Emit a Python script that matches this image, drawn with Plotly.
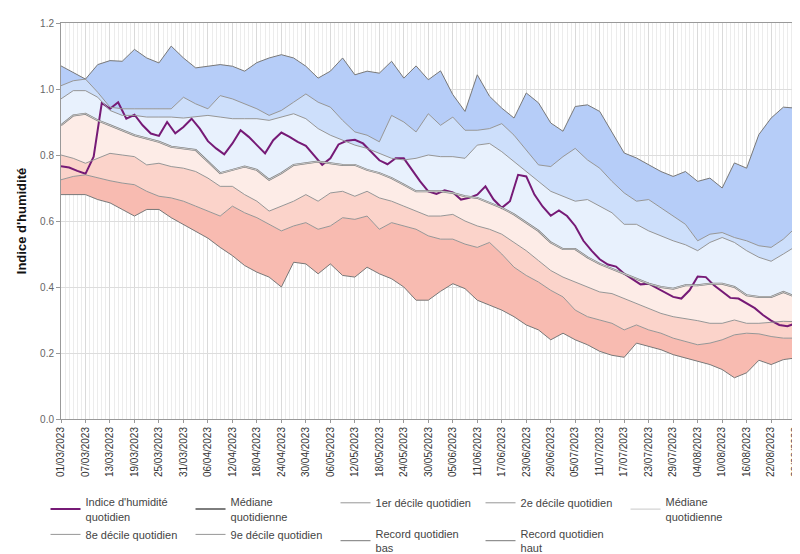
import pandas as pd
import plotly.graph_objects as go

# --- dates (categories) ---
band_dates = pd.date_range("2023-03-01", "2023-08-28", freq="3D")
index_dates = pd.date_range("2023-03-01", "2023-08-28", freq="2D")

# --- series ---
record_haut = [1.07, 1.05, 1.03, 1.074, 1.086, 1.084, 1.12, 1.094, 1.079, 1.13,
               1.094, 1.064, 1.069, 1.074, 1.069, 1.054, 1.08, 1.094, 1.104, 1.094,
               1.069, 1.033, 1.054, 1.094, 1.043, 1.054, 1.048, 1.084, 1.033, 1.07,
               1.028, 1.055, 0.983, 0.932, 1.043, 0.978, 0.942, 0.912, 0.988, 0.958,
               0.897, 0.872, 0.947, 0.952, 0.932, 0.867, 0.806, 0.791, 0.77, 0.75,
               0.735, 0.75, 0.72, 0.73, 0.70, 0.776, 0.76, 0.862, 0.912, 0.945, 0.942]
decile9 = [1.01, 1.025, 1.03, 0.99, 0.945, 0.94, 0.94, 0.94, 0.94, 0.94,
           0.975, 0.955, 0.94, 0.98, 0.97, 0.955, 0.94, 0.92, 0.935, 0.96,
           0.985, 0.96, 0.945, 0.905, 0.87, 0.86, 0.84, 0.92, 0.90, 0.87,
           0.925, 0.89, 0.915, 0.875, 0.875, 0.88, 0.895, 0.86, 0.815, 0.77,
           0.765, 0.795, 0.82, 0.785, 0.76, 0.72, 0.685, 0.66, 0.665, 0.64,
           0.615, 0.59, 0.54, 0.56, 0.565, 0.55, 0.54, 0.525, 0.52, 0.545, 0.58]
decile8 = [0.97, 0.995, 0.995, 0.975, 0.935, 0.92, 0.92, 0.915, 0.915, 0.915,
           0.912, 0.915, 0.92, 0.915, 0.91, 0.91, 0.91, 0.905, 0.915, 0.925,
           0.91, 0.88, 0.86, 0.845, 0.83, 0.82, 0.805, 0.79, 0.785, 0.79,
           0.80, 0.795, 0.795, 0.79, 0.83, 0.835, 0.81, 0.78, 0.75, 0.72,
           0.69, 0.675, 0.66, 0.665, 0.645, 0.625, 0.59, 0.59, 0.57, 0.555,
           0.54, 0.528, 0.51, 0.535, 0.55, 0.535, 0.51, 0.49, 0.478, 0.50, 0.523]
mediane = [0.89, 0.92, 0.925, 0.905, 0.89, 0.875, 0.86, 0.85, 0.84, 0.825,
           0.82, 0.815, 0.78, 0.745, 0.755, 0.765, 0.755, 0.725, 0.745, 0.77,
           0.775, 0.78, 0.775, 0.77, 0.77, 0.755, 0.745, 0.73, 0.71, 0.69,
           0.69, 0.69, 0.685, 0.675, 0.67, 0.655, 0.64, 0.62, 0.595, 0.57,
           0.535, 0.515, 0.515, 0.49, 0.47, 0.455, 0.44, 0.425, 0.41, 0.40,
           0.395, 0.405, 0.405, 0.41, 0.41, 0.40, 0.375, 0.37, 0.37, 0.385, 0.37]
decile2 = [0.80, 0.79, 0.775, 0.79, 0.805, 0.80, 0.795, 0.77, 0.775, 0.765,
           0.76, 0.75, 0.73, 0.705, 0.705, 0.68, 0.66, 0.63, 0.645, 0.66,
           0.68, 0.66, 0.685, 0.69, 0.675, 0.69, 0.67, 0.66, 0.645, 0.63,
           0.615, 0.615, 0.62, 0.60, 0.585, 0.575, 0.56, 0.535, 0.51, 0.48,
           0.45, 0.43, 0.415, 0.40, 0.385, 0.38, 0.365, 0.35, 0.335, 0.32,
           0.31, 0.305, 0.298, 0.29, 0.29, 0.30, 0.29, 0.29, 0.292, 0.296, 0.295]
decile1 = [0.725, 0.735, 0.74, 0.73, 0.722, 0.715, 0.71, 0.69, 0.675, 0.67,
           0.66, 0.645, 0.63, 0.615, 0.645, 0.625, 0.61, 0.59, 0.57, 0.585,
           0.595, 0.575, 0.585, 0.61, 0.605, 0.615, 0.575, 0.595, 0.585, 0.575,
           0.555, 0.545, 0.545, 0.53, 0.52, 0.535, 0.50, 0.46, 0.435, 0.415,
           0.39, 0.37, 0.33, 0.31, 0.30, 0.29, 0.27, 0.285, 0.27, 0.26,
           0.245, 0.235, 0.225, 0.23, 0.24, 0.255, 0.26, 0.258, 0.25, 0.245, 0.245]
record_bas = [0.68, 0.68, 0.68, 0.665, 0.655, 0.635, 0.615, 0.635, 0.635, 0.61,
              0.59, 0.57, 0.548, 0.52, 0.495, 0.465, 0.445, 0.43, 0.40, 0.475,
              0.47, 0.44, 0.47, 0.435, 0.43, 0.46, 0.44, 0.425, 0.40, 0.36,
              0.36, 0.387, 0.41, 0.395, 0.36, 0.345, 0.33, 0.31, 0.285, 0.27,
              0.24, 0.26, 0.24, 0.225, 0.205, 0.193, 0.187, 0.23, 0.22, 0.21,
              0.195, 0.185, 0.175, 0.165, 0.15, 0.125, 0.14, 0.178, 0.165, 0.18, 0.185]
indice = [0.766, 0.762, 0.752, 0.743, 0.795, 0.958, 0.94, 0.96, 0.91, 0.922,
          0.89, 0.865, 0.858, 0.90, 0.866, 0.885, 0.91, 0.88, 0.842, 0.82,
          0.802, 0.835, 0.875, 0.855, 0.83, 0.805, 0.845, 0.868, 0.855, 0.84,
          0.828, 0.80, 0.77, 0.79, 0.832, 0.843, 0.846, 0.835, 0.81, 0.784,
          0.772, 0.79, 0.79, 0.755, 0.72, 0.69, 0.682, 0.693, 0.687, 0.665,
          0.67, 0.68, 0.705, 0.665, 0.64, 0.66, 0.74, 0.735, 0.68, 0.644,
          0.616, 0.632, 0.615, 0.585, 0.54, 0.51, 0.484, 0.468, 0.462, 0.44,
          0.425, 0.408, 0.41, 0.397, 0.385, 0.37, 0.365, 0.39, 0.432, 0.43,
          0.405, 0.385, 0.367, 0.365, 0.35, 0.336, 0.315, 0.298, 0.285, 0.281, 0.29]

fig = go.Figure()

# filled bands (bottom to top)
bands = [
    (record_bas, None),
    (decile1, "rgb(248,187,177)"),
    (decile2, "rgb(251,211,202)"),
    (mediane, "rgb(253,236,231)"),
    (decile8, "rgb(232,241,253)"),
    (decile9, "rgb(205,223,251)"),
    (record_haut, "rgb(182,205,248)"),
]
for vals, col in bands:
    fig.add_trace(go.Scatter(
        x=band_dates, y=vals, mode="lines", line=dict(width=0, color="rgba(0,0,0,0)"),
        fill=None if col is None else "tonexty", fillcolor=col,
        showlegend=False, hoverinfo="skip"))

# lines (legend order)
fig.add_trace(go.Scatter(x=index_dates, y=indice, mode="lines",
                         name="Indice d'humidité<br>quotidien",
                         line=dict(color="rgb(118,26,118)", width=2)))
fig.add_trace(go.Scatter(x=band_dates, y=mediane, mode="lines",
                         name="Médiane<br>quotidienne",
                         line=dict(color="rgb(125,125,125)", width=2)))
fig.add_trace(go.Scatter(x=band_dates, y=decile1, mode="lines",
                         name="1er décile quotidien",
                         line=dict(color="rgb(150,150,150)", width=1)))
fig.add_trace(go.Scatter(x=band_dates, y=decile2, mode="lines",
                         name="2e décile quotidien",
                         line=dict(color="rgb(150,150,150)", width=1)))
fig.add_trace(go.Scatter(x=band_dates, y=mediane, mode="lines",
                         name="Médiane<br>quotidienne",
                         line=dict(color="rgb(200,200,200)", width=1)))
fig.add_trace(go.Scatter(x=band_dates, y=decile8, mode="lines",
                         name="8e décile quotidien",
                         line=dict(color="rgb(150,150,150)", width=1)))
fig.add_trace(go.Scatter(x=band_dates, y=decile9, mode="lines",
                         name="9e décile quotidien",
                         line=dict(color="rgb(150,150,150)", width=1)))
fig.add_trace(go.Scatter(x=band_dates, y=record_bas, mode="lines",
                         name="Record quotidien<br>bas",
                         line=dict(color="rgb(120,120,120)", width=1)))
fig.add_trace(go.Scatter(x=band_dates, y=record_haut, mode="lines",
                         name="Record quotidien<br>haut",
                         line=dict(color="rgb(120,120,120)", width=1)))

DAY = 86400000
fig.update_layout(
    width=800, height=554,
    margin=dict(l=53, r=10, t=15, b=143, autoexpand=False),
    paper_bgcolor="white", plot_bgcolor="white",
    font=dict(family="Liberation Sans, Arial, sans-serif", color="#444"),
    xaxis=dict(
        type="date", range=["2023-03-01", "2023-08-28 14:00"],
        tick0="2023-03-01", dtick=6 * DAY, tickformat="%d/%m/%Y",
        tickangle=-90, tickfont=dict(size=10, color="#333"),
        showgrid=True, gridcolor="#dadada", gridwidth=1,
        minor=dict(dtick=DAY, showgrid=True, gridcolor="#ececec", gridwidth=1),
        showline=True, linecolor="#999", mirror=True, automargin=False,
        ticks="outside", ticklen=3, tickcolor="#999", zeroline=False),
    yaxis=dict(
        range=[0, 1.2], dtick=0.2, tickformat=".1f",
        tickfont=dict(size=10, color="#666"), automargin=False,
        showgrid=True, gridcolor="#dddddd",
        showline=True, linecolor="#999", mirror=True,
        ticks="outside", ticklen=4, tickcolor="#999", zeroline=False,
        title=dict(text="<b>Indice d'humidité</b>", font=dict(size=13, color="#111"),
                   standoff=10)),
    legend=dict(orientation="h", x=-0.021, xanchor="left", y=-0.175, yanchor="top",
                entrywidth=100, entrywidthmode="pixels", itemwidth=30,
                traceorder="normal",
                font=dict(size=11, color="#444"), bgcolor="rgba(0,0,0,0)",
                tracegroupgap=0),
)

fig.write_html("out.html")
